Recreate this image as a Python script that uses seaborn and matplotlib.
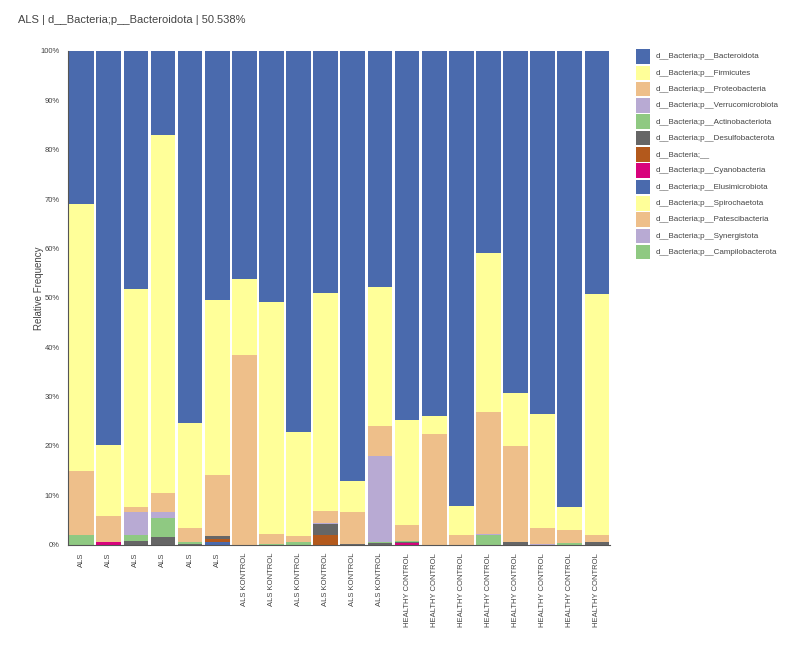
import numpy as np
import pandas as pd
import seaborn as sns
import matplotlib.pyplot as plt
from matplotlib.patches import Rectangle

# ---- data (relative frequency, %) ----
groups = ["ALS"] * 6 + ["ALS KONTROL"] * 6 + ["HEALTHY CONTROL"] * 8

taxa = [
    "d__Bacteria;p__Bacteroidota",
    "d__Bacteria;p__Firmicutes",
    "d__Bacteria;p__Proteobacteria",
    "d__Bacteria;p__Verrucomicrobiota",
    "d__Bacteria;p__Actinobacteriota",
    "d__Bacteria;p__Desulfobacterota",
    "d__Bacteria;__",
    "d__Bacteria;p__Cyanobacteria",
    "d__Bacteria;p__Elusimicrobiota",
    "d__Bacteria;p__Spirochaetota",
    "d__Bacteria;p__Patescibacteria",
    "d__Bacteria;p__Synergistota",
    "d__Bacteria;p__Campilobacterota",
]
colors = ["#4a6aad", "#ffff99", "#eebf8a", "#b8aad3", "#8fc982", "#666666",
          "#b3591c", "#d8037c", "#4a6aad", "#ffff99", "#eebf8a", "#b8aad3",
          "#8fc982"]

bacteroidota = [31.0, 79.9, 48.3, 17.0, 75.3, 50.4, 46.3, 50.8, 77.3, 49.0,
                87.2, 47.8, 74.8, 73.9, 92.2, 41.0, 69.2, 73.5, 92.4, 49.2]
firmicutes = [54.2, 14.4, 44.0, 72.5, 21.4, 35.5, 15.2, 47.0, 20.9, 44.2,
              6.2, 28.2, 21.2, 3.7, 5.9, 32.2, 10.9, 23.2, 4.6, 48.8]
proteobacteria = [12.8, 5.1, 1.1, 3.9, 2.8, 12.4, 38.5, 2.0, 1.2, 2.4,
                  6.5, 6.1, 3.2, 22.4, 1.9, 24.6, 19.4, 3.1, 2.7, 1.4]
verrucomicrobiota = [0, 0, 4.7, 1.2, 0, 0, 0, 0, 0, 0.2,
                     0, 17.4, 0, 0, 0, 0.2, 0, 0.2, 0, 0]
actinobacteriota = [2.0, 0, 1.1, 3.9, 0.3, 0, 0, 0.2, 0.6, 0,
                    0, 0.2, 0.2, 0, 0, 2.0, 0, 0, 0.3, 0]
desulfobacterota = [0, 0, 0.8, 1.5, 0.2, 0.5, 0, 0, 0, 2.2,
                    0.1, 0.3, 0.3, 0, 0, 0, 0.5, 0, 0, 0.6]
unassigned = [0, 0, 0, 0, 0, 0.6, 0, 0, 0, 2.0,
              0, 0, 0, 0, 0, 0, 0, 0, 0, 0]
cyanobacteria = [0, 0.6, 0, 0, 0, 0, 0, 0, 0, 0,
                 0, 0, 0.3, 0, 0, 0, 0, 0, 0, 0]
elusimicrobiota = [0, 0, 0, 0, 0, 0.6, 0, 0, 0, 0,
                   0, 0, 0, 0, 0, 0, 0, 0, 0, 0]
spirochaetota = [0] * 20
patescibacteria = [0] * 20
synergistota = [0] * 20
campilobacterota = [0] * 20

series = [bacteroidota, firmicutes, proteobacteria, verrucomicrobiota,
          actinobacteriota, desulfobacterota, unassigned, cyanobacteria,
          elusimicrobiota, spirochaetota, patescibacteria, synergistota,
          campilobacterota]

sample_ids = [f"S{i:02d}" for i in range(len(groups))]
df = pd.DataFrame(np.array(series).T, columns=taxa, index=sample_ids)
df = df.div(df.sum(axis=1), axis=0) * 100  # relative frequency per sample

# cumulative heights from the bottom taxon up; draw tallest first
cum = df[taxa[::-1]].cumsum(axis=1)
cum["sample"] = sample_ids

# ---- plot ----
sns.set_style("white")
plt.rcParams["font.family"] = ["Liberation Sans", "DejaVu Sans"]

W, H = 793, 648
fig = plt.figure(figsize=(W / 100, H / 100), dpi=100)
ax = fig.add_axes([0.0858, 0.1597, 0.684, 0.7616])

for taxon, col in zip(taxa, colors):
    sns.barplot(data=cum, x="sample", y=taxon, order=sample_ids, color=col,
                saturation=1, width=0.91, linewidth=0, errorbar=None, ax=ax)

ax.set_ylim(0, 100)
ax.set_xlim(-0.5, len(groups) - 0.5)
ax.set_yticks(range(0, 101, 10))
ax.set_yticklabels([f"{v}%" for v in range(0, 101, 10)], fontsize=5.5, color="#444444")
ax.set_xticks(range(len(groups)))
ax.set_xticklabels(groups, rotation=90, fontsize=5.5, color="#444444")
ax.set_xlabel("")
ax.set_ylabel("Relative Frequency", fontsize=7, color="#444444")
ax.yaxis.set_label_coords(-0.044, 0.52)
ax.tick_params(axis="both", length=4, width=0.8, color="#555555", pad=2)
sns.despine(ax=ax)
for s in ["left", "bottom"]:
    ax.spines[s].set_color("#555555")
    ax.spines[s].set_linewidth(0.8)

fig.text(18 / W, 1 - 20 / H, "ALS | d__Bacteria;p__Bacteroidota | 50.538%",
         fontsize=8, color="#444444", va="center", ha="left")

# legend: colour squares with labels, one row per taxon
for i, (taxon, col) in enumerate(zip(taxa, colors)):
    top = 49.3 + i * 16.3
    fig.add_artist(Rectangle((636 / W, 1 - (top + 14.5) / H), 14.3 / W, 14.5 / H,
                             transform=fig.transFigure, facecolor=col,
                             edgecolor="none"))
    fig.text(655.7 / W, 1 - (top + 7.5) / H, taxon, fontsize=5.8,
             color="#444444", va="center", ha="left")

fig.savefig("out.png", dpi=100)
